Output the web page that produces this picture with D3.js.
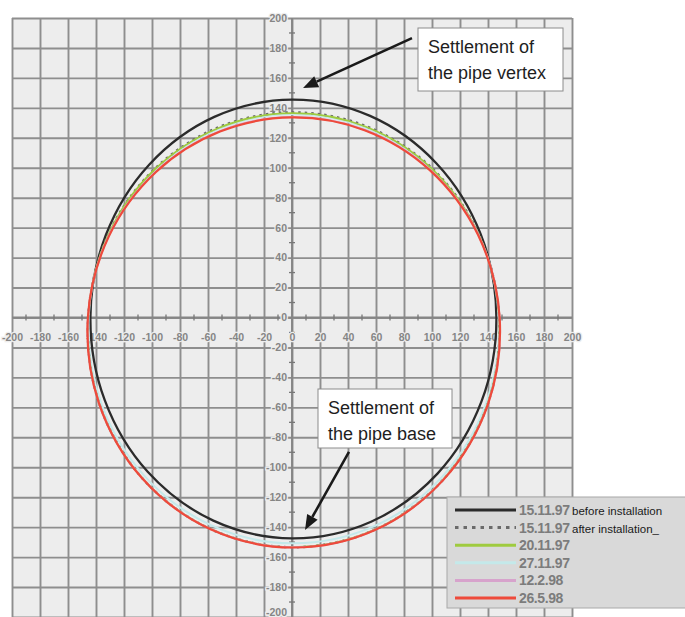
<!DOCTYPE html>
<html>
<head>
<meta charset="utf-8">
<script src="https://cdn.jsdelivr.net/npm/d3@7"></script>
<style>
  html, body { margin: 0; padding: 0; background: #ffffff; }
  svg { display: block; font-family: "Liberation Sans", Arial, sans-serif; }
</style>
</head>
<body>
<svg id="chart" width="685" height="617"></svg>
<script>
// ---- data ----
const xTicks = [-200,-180,-160,-140,-120,-100,-80,-60,-40,-20,0,20,40,60,80,100,120,140,160,180,200];
const yTicks = [-200,-180,-160,-140,-120,-100,-80,-60,-40,-20,0,20,40,60,80,100,120,140,160,180,200];
const minorTicks = [-190,-170,-150,-130,-110,-90,-70,-50,-30,-10,10,30,50,70,90,110,130,150,170,190];

// measurement angles (degrees, counter-clockwise from +x)
const angles = [0,22.5,45,67.5,90,112.5,135,157.5,180,202.5,225,247.5,270,292.5,315,337.5];

// distance from pipe axis (mm) at each angle, per survey
const r151197before = [146,145.8,145.75,145.7,145.5,145,144.3,143.9,144,144.7,145.75,146.8,147.5,147.6,147.2,146.5];
const r151197after  = [148.0,144.6,141.2,138.3,137.0,137.5,139.6,142.6,145.6,149.2,151.5,152.8,153.4,153.6,152.9,151.3];
const r201197       = [148.0,144.4,140.9,137.9,136.5,137.0,139.3,142.4,145.6,149.1,151.4,152.7,153.3,153.5,152.8,151.2];
const r271197       = [147.7,144.2,140.45,137.3,135.8,136.4,138.75,142.0,145.3,147.8,149.35,150.3,150.8,151.2,151.05,150.0];
const r12298        = [148.2,144.2,139.5,135.7,133.9,134.7,137.7,141.9,145.7,149.2,151.5,152.8,153.5,153.7,153.0,151.4];
const r26598        = [148.3,143.9,139.2,135.4,133.6,134.4,137.4,141.6,145.8,149.3,151.6,152.9,153.6,153.8,153.1,151.5];

const seriesNames = ["15.11.97","15.11.97","20.11.97","27.11.97","12.2.98","26.5.98"];
const seriesNotes = ["before installation","after installation_","","","",""];

// ---- styles ----
const styles = [
  {color:"#2b2b2b", width:2.3, dash:null},
  {color:"#6a6a6a", width:2.4, dash:"2.5,4"},
  {color:"#9fcb3f", width:1.8, dash:null},
  {color:"#c4e9ea", width:2, dash:null},
  {color:"#d7a3cc", width:2, dash:null},
  {color:"#ee4a3b", width:2.2, dash:null}
];
const radiiList = [r151197before, r151197after, r201197, r271197, r12298, r26598];
const drawOrder = [0,3,1,2,4,5];

const svg = d3.select("#chart");
const x = d3.scaleLinear().domain([-200,200]).range([12,572]);
const y = d3.scaleLinear().domain([-200,200]).range([617,18]);

// plot background
svg.append("rect").attr("x", x(-200)).attr("y", y(200))
  .attr("width", x(200)-x(-200)).attr("height", y(-200)-y(200))
  .attr("fill", "#ededed");

// grid
const gridX = svg.append("g").attr("transform", `translate(0,${y(-200)})`)
  .call(d3.axisBottom(x).tickValues(xTicks).tickSize(-(y(-200)-y(200))).tickFormat(""));
const gridY = svg.append("g").attr("transform", `translate(${x(-200)},0)`)
  .call(d3.axisLeft(y).tickValues(yTicks).tickSize(-(x(200)-x(-200))).tickFormat(""));
[gridX, gridY].forEach(g => {
  g.select(".domain").remove();
  g.selectAll("line").attr("stroke", "#8e8e8e").attr("stroke-width", 1.9);
});

// axes through origin
svg.append("line").attr("x1", x(-200)).attr("x2", x(200)).attr("y1", y(0)).attr("y2", y(0))
  .attr("stroke", "#868686").attr("stroke-width", 1.9);
svg.append("line").attr("x1", x(0)).attr("x2", x(0)).attr("y1", y(200)).attr("y2", y(-200))
  .attr("stroke", "#868686").attr("stroke-width", 1.9);

// minor ticks
svg.append("g").selectAll("line").data(minorTicks).join("line")
  .attr("x1", d => x(d)).attr("x2", d => x(d)).attr("y1", y(0)-3).attr("y2", y(0)+3)
  .attr("stroke", "#777").attr("stroke-width", 1.3);
svg.append("g").selectAll("line").data(minorTicks).join("line")
  .attr("y1", d => y(d)).attr("y2", d => y(d)).attr("x1", x(0)-3).attr("x2", x(0)+3)
  .attr("stroke", "#777").attr("stroke-width", 1.3);

// tick labels
const fmt = d => String(d);
const xLab = svg.append("g").attr("transform", `translate(0,${y(0)})`)
  .call(d3.axisBottom(x).tickValues(xTicks).tickSize(0).tickPadding(16).tickFormat(fmt));
const yLab = svg.append("g").attr("transform", `translate(${x(0)},0)`)
  .call(d3.axisLeft(y).tickValues(yTicks).tickSize(0).tickPadding(5).tickFormat(fmt));
[xLab, yLab].forEach(g => {
  g.select(".domain").remove();
  g.selectAll("text")
    .attr("fill", "#858585").attr("font-size", 10.5).attr("font-weight", "bold")
    .attr("font-family", "'Liberation Sans', Arial, sans-serif")
    .attr("stroke", "#ededed").attr("stroke-width", 2.5).attr("paint-order", "stroke");
});
// keep the lowest y label inside the picture
yLab.selectAll(".tick").filter(d => d === -200).select("text").attr("dy", "-0.15em");

// curves
const line = d3.line()
  .x(d => x(d[0])).y(d => y(d[1]))
  .curve(d3.curveCatmullRomClosed);
drawOrder.forEach(i => {
  const pts = angles.map((a, k) => {
    const t = a * Math.PI / 180;
    return [radiiList[i][k] * Math.cos(t), radiiList[i][k] * Math.sin(t)];
  });
  const p = svg.append("path").attr("d", line(pts))
    .attr("fill", "none").attr("stroke", styles[i].color).attr("stroke-width", styles[i].width);
  if (styles[i].dash) p.attr("stroke-dasharray", styles[i].dash);
});

// annotations
function arrow(x1, y1, x2, y2) {
  const ang = Math.atan2(y2 - y1, x2 - x1);
  const L = 15, Wd = 6;
  const bx = x2 - L * Math.cos(ang), by = y2 - L * Math.sin(ang);
  svg.append("line").attr("x1", x1).attr("y1", y1).attr("x2", bx).attr("y2", by)
    .attr("stroke", "#1a1a1a").attr("stroke-width", 2.6);
  svg.append("polygon").attr("points", [
    [x2, y2],
    [bx + Wd * Math.sin(ang), by - Wd * Math.cos(ang)],
    [bx - Wd * Math.sin(ang), by + Wd * Math.cos(ang)]
  ].map(p => p.join(",")).join(" ")).attr("fill", "#1a1a1a");
}
arrow(x(85.7), y(186.6), x(7.9), y(153.3));
arrow(x(40.7), y(-89.8), x(9.3), y(-141.9));

function box(x0, y0, x1, y1, lines) {
  svg.append("rect").attr("x", x0).attr("y", y0).attr("width", x1 - x0).attr("height", y1 - y0)
    .attr("fill", "#ffffff").attr("stroke", "#8c8c8c").attr("stroke-width", 1);
  lines.forEach((t, i) => {
    svg.append("text").attr("x", x0 + 10).attr("y", y0 + 25 + i * 26).text(t)
      .attr("font-size", 18).attr("fill", "#1e1e1e")
      .attr("font-family", "'Liberation Sans', Arial, sans-serif");
  });
}
box(418, 28, 563, 91, ["Settlement of", "the pipe vertex"]);
box(318, 389, 452, 448, ["Settlement of", "the pipe base"]);

// legend
const lg = svg.append("g");
lg.append("rect").attr("x", 447).attr("y", 497).attr("width", 245).attr("height", 111)
  .attr("fill", "#d9d9d9").attr("stroke", "#a8a8a8").attr("stroke-width", 1);
seriesNames.forEach((name, i) => {
  const cy = 510 + i * 17.6;
  const l = lg.append("line").attr("x1", 455).attr("x2", 516).attr("y1", cy).attr("y2", cy)
    .attr("stroke", styles[i].color).attr("stroke-width", 3);
  if (styles[i].dash) l.attr("stroke-dasharray", "3.5,5");
  lg.append("text").attr("x", 519).attr("y", cy + 5).text(name)
    .attr("font-size", 14).attr("font-weight", "bold").attr("fill", "#7c7c7c")
    .attr("letter-spacing", -0.4);
  if (seriesNotes[i]) {
    lg.append("text").attr("x", 572).attr("y", cy + 5).text(seriesNotes[i])
      .attr("font-size", 11.5).attr("fill", "#1a1a1a");
  }
});
</script>
</body>
</html>
